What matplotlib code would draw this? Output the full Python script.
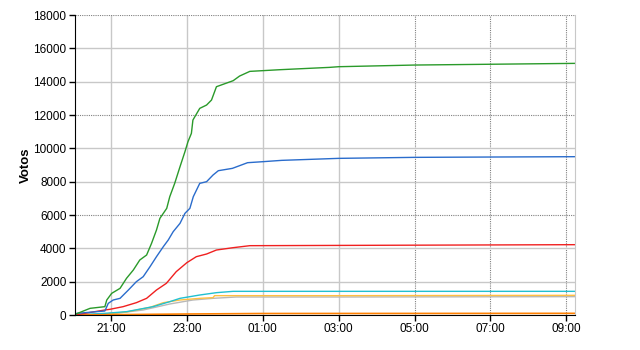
#!/usr/bin/env python3
import matplotlib
matplotlib.use("Agg")
import matplotlib.pyplot as plt

# time in hours since midnight of the first day (24 = 00:00 next day)
green_t = [20.05, 20.10, 20.45, 20.84, 20.89, 21.02, 21.24, 21.41, 21.59, 21.76, 21.94,
           22.07, 22.20, 22.29, 22.47, 22.55, 22.68, 22.82, 22.95, 23.03, 23.12, 23.16,
           23.34, 23.52, 23.65, 23.78, 24.22, 24.39, 24.66, 25.45, 26.76, 27.0, 29.0, 33.22]
green_v = [0, 80, 400, 500, 900, 1300, 1600, 2200, 2700, 3300, 3600,
           4300, 5100, 5800, 6400, 7100, 7900, 8900, 9800, 10400, 10900, 11700,
           12400, 12600, 12900, 13700, 14060, 14340, 14620, 14720, 14860, 14900, 15000, 15100]

blue_t = [20.05, 20.10, 20.84, 20.93, 21.06, 21.24, 21.46, 21.67, 21.85, 22.03, 22.20,
          22.38, 22.51, 22.64, 22.82, 22.95, 23.08, 23.17, 23.34, 23.52, 23.69, 23.83,
          24.2, 24.6, 25.0, 25.5, 27.0, 29.0, 31.0, 33.22]
blue_v = [0, 100, 240, 700, 900, 1000, 1500, 2000, 2300, 2900, 3500,
          4100, 4500, 5000, 5500, 6100, 6400, 7100, 7900, 8000, 8400, 8660,
          8800, 9140, 9200, 9280, 9400, 9460, 9480, 9500]

red_t = [20.05, 20.84, 20.97, 21.32, 21.67, 21.94, 22.20, 22.46, 22.72, 23.0, 23.25,
         23.52, 23.78, 24.22, 24.66, 27.55, 33.22]
red_v = [0, 300, 340, 500, 740, 1000, 1500, 1900, 2600, 3140, 3500,
         3660, 3900, 4040, 4160, 4180, 4220]

cyan_t = [20.05, 20.84, 21.41, 22.11, 22.55, 22.82, 23.34, 23.78, 24.22, 33.22]
cyan_v = [0, 100, 200, 500, 800, 1000, 1200, 1340, 1420, 1420]

yellow_t = [20.05, 20.84, 21.41, 22.03, 22.38, 22.82, 23.34, 23.69, 23.73, 27.0, 33.22]
yellow_v = [0, 60, 180, 460, 740, 900, 1000, 1040, 1160, 1160, 1180]

gray_t = [20.05, 20.97, 21.85, 22.55, 23.16, 23.69, 24.3, 27.0, 33.22]
gray_v = [0, 60, 300, 660, 900, 1000, 1080, 1080, 1100]

orange_t = [20.05, 21.0, 23.0, 25.0, 33.22]
orange_v = [0, 20, 60, 90, 100]

tick_hours = [21, 23, 25, 27, 29, 31, 33]
tick_labels = ["21:00", "23:00", "01:00", "03:00", "05:00", "07:00", "09:00"]
y_ticks = list(range(0, 18001, 2000))

plt.rcParams["font.family"] = ["Liberation Sans", "DejaVu Sans"]

fig = plt.figure(figsize=(6.4, 3.5), dpi=100)
ax = fig.add_axes([0.117, 0.1, 0.781, 0.857])

# grid: some lines solid light gray, others dotted darker gray
for h in tick_hours:
    if h <= 27:
        ax.axvline(h, color="#c8c8c8", lw=1, zorder=0)
    else:
        ax.axvline(h, color="#808080", lw=0.8, ls=(0, (1, 1)), zorder=0)
for v in y_ticks[1:]:
    if v % 6000 == 0:
        ax.axhline(v, color="#808080", lw=0.8, ls=(0, (1, 1)), zorder=0)
    else:
        ax.axhline(v, color="#c8c8c8", lw=1, zorder=0)

ax.plot(gray_t, gray_v, color="#b8b8b8", lw=1)
ax.plot(yellow_t, yellow_v, color="#ffc040", lw=1)
ax.plot(cyan_t, cyan_v, color="#20c0d0", lw=1)
ax.plot(orange_t, orange_v, color="#ff8000", lw=1.2)
ax.plot(red_t, red_v, color="#f02020", lw=1)
ax.plot(blue_t, blue_v, color="#2a6ccc", lw=1)
ax.plot(green_t, green_v, color="#2a9a2a", lw=1)

ax.set_xlim(20.05, 33.22)
ax.set_ylim(0, 18000)
ax.set_xticks(tick_hours)
ax.set_xticklabels(tick_labels)
ax.set_yticks(y_ticks)
ax.tick_params(axis="both", labelsize=8.5, length=4, width=1, direction="out",
               colors="black", pad=2)
ax.set_ylabel("Votos", fontsize=9.5, fontweight="bold")
ax.yaxis.set_label_coords(-0.085, 0.5)

ax.spines["left"].set_color("black")
ax.spines["bottom"].set_color("black")
ax.spines["right"].set_color("#c8c8c8")
ax.spines["top"].set_visible(False)

fig.savefig("out.png", dpi=100)
